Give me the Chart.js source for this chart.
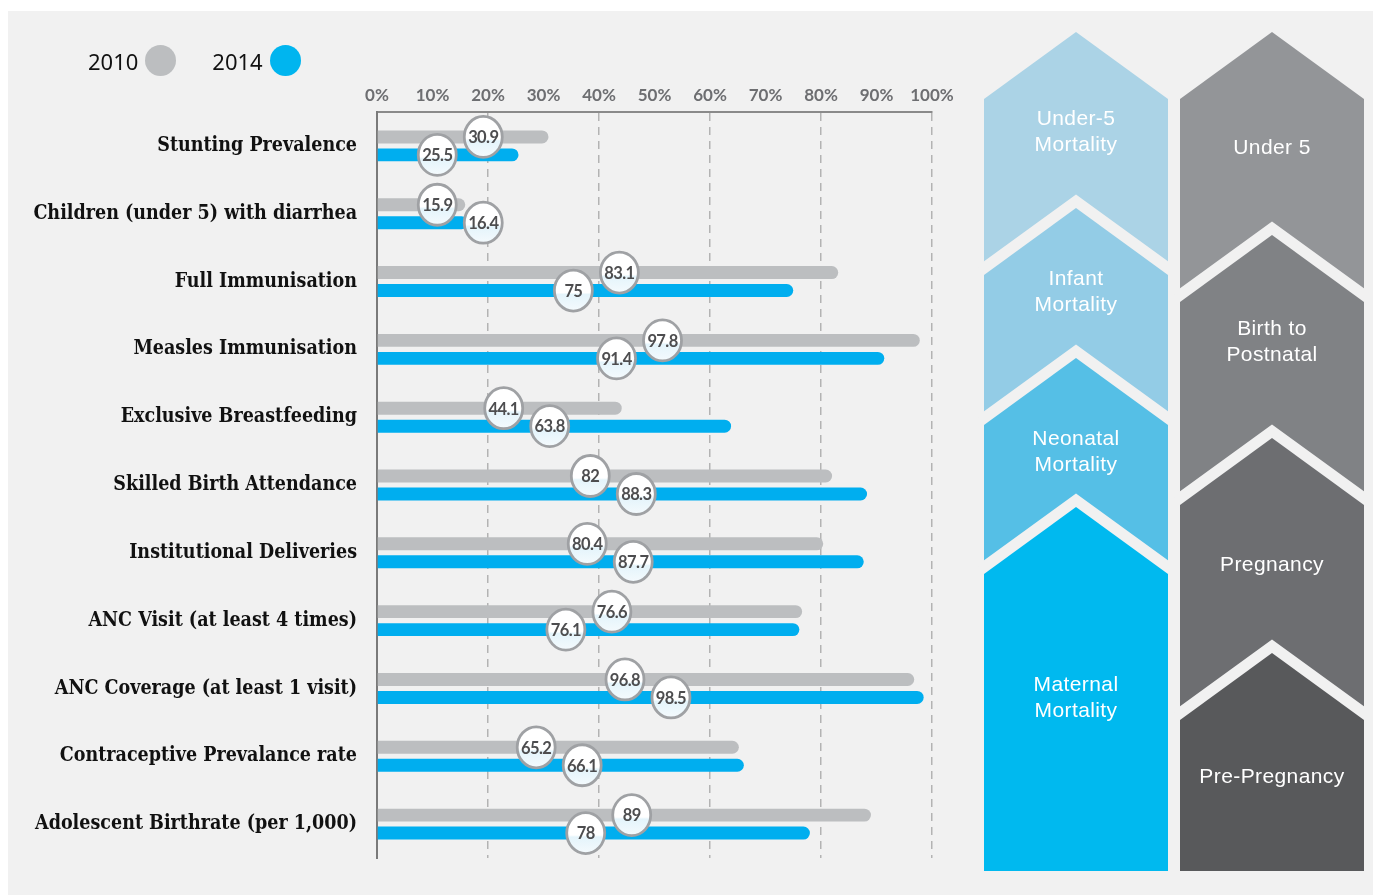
<!DOCTYPE html>
<html>
<head>
<meta charset="utf-8">
<script src="https://cdn.jsdelivr.net/npm/chart.js@4/dist/chart.umd.min.js"></script>
<style>
  body { margin: 0; background: #fff; }
  .panel { position: absolute; left: 8px; top: 11px; width: 1365px; height: 884px; background: #f1f1f1; }
  #chart { position: absolute; left: 0; top: 0; }
  .legend { position: absolute; top: 45px; left: 88px; font-family: "Noto Sans", sans-serif; font-size: 22px; color: #111; display: flex; align-items: center; }
  .legend span { display: inline-block; }
  .dot { width: 31px; height: 31px; border-radius: 50%; margin-left: 7px; margin-right: 36px; }
</style>
</head>
<body>
<div class="panel"></div>
<canvas id="chart" width="1373" height="895"></canvas>
<div class="legend">
  <span>2010</span><span class="dot" style="background:#bcbec0"></span>
  <span>2014</span><span class="dot" style="background:#00b5ef"></span>
</div>
<script>
const categories = [
  "Stunting Prevalence",
  "Children (under 5) with diarrhea",
  "Full Immunisation",
  "Measles Immunisation",
  "Exclusive Breastfeeding",
  "Skilled Birth Attendance",
  "Institutional Deliveries",
  "ANC Visit (at least 4 times)",
  "ANC Coverage (at least 1 visit)",
  "Contraceptive Prevalance rate",
  "Adolescent Birthrate (per 1,000)",
];
const values2010 = [30.9, 15.9, 83.1, 97.8, 44.1, 82, 80.4, 76.6, 96.8, 65.2, 89];
const values2014 = [25.5, 16.4, 75, 91.4, 63.8, 88.3, 87.7, 76.1, 98.5, 66.1, 78];
const tickValues = [0, 10, 20, 30, 40, 50, 60, 70, 80, 90, 100];

const leftStages = [
  { text: ["Under-5", "Mortality"], color: "#abd3e6" },
  { text: ["Infant", "Mortality"], color: "#93cce6" },
  { text: ["Neonatal", "Mortality"], color: "#55bfe6" },
  { text: ["Maternal", "Mortality"], color: "#00b9ef" },
];
const rightStages = [
  { text: ["Under 5"], color: "#939598" },
  { text: ["Birth to", "Postnatal"], color: "#808285" },
  { text: ["Pregnancy"], color: "#6d6e71" },
  { text: ["Pre-Pregnancy"], color: "#58595b" },
];

const GRAY = "#bcbec0";
const BLUE = "#00aeef";
const BG = "#f1f1f1";

/* =========================
   VALUE BUBBLES
========================= */
function bubble(ctx, x, y, text) {
  ctx.save();
  ctx.beginPath();
  ctx.ellipse(x, y, 19, 20.5, 0, 0, Math.PI * 2);
  const g = ctx.createLinearGradient(0, y - 20, 0, y + 20);
  g.addColorStop(0, "#ffffff");
  g.addColorStop(0.55, "#ffffff");
  g.addColorStop(0.6, "#e4f4fb");
  g.addColorStop(1, "#f4fafd");
  ctx.fillStyle = g;
  ctx.fill();
  ctx.lineWidth = 2.8;
  ctx.strokeStyle = "#9fa1a4";
  ctx.stroke();
  ctx.fillStyle = "#4d4d4f";
  ctx.font = "bold 16.5px Lato, sans-serif";
  ctx.letterSpacing = "-0.6px";
  ctx.textAlign = "center";
  ctx.textBaseline = "middle";
  ctx.fillText(text, x, y + 1);
  ctx.restore();
}

const bubblePlugin = {
  id: "bubbles",
  afterDatasetsDraw(chart) {
    const ctx = chart.ctx;
    const xs = chart.scales.x;
    const m0 = chart.getDatasetMeta(0);
    const m1 = chart.getDatasetMeta(1);
    const pos = categories.map((c, i) => {
      const a = values2010[i];
      const b = values2014[i];
      const mid = xs.getPixelForValue(Math.max((a + b) / 4, 15));
      const grayLeft = a <= b;
      return {
        g: mid + (grayLeft ? -23 : 23),
        b: mid + (grayLeft ? 23 : -23),
      };
    });
    categories.forEach((c, i) => bubble(ctx, pos[i].g, m0.data[i].y, String(values2010[i])));
    categories.forEach((c, i) => bubble(ctx, pos[i].b, m1.data[i].y, String(values2014[i])));
  },
};

/* =========================
   CHEVRON COLUMNS
========================= */
function drawColumn(ctx, stages, xl, xr, tops, textY, bottom) {
  const cx = (xl + xr) / 2;
  const drop = 67;
  stages.forEach((s, i) => {
    const apex = tops[i];
    ctx.save();
    ctx.beginPath();
    ctx.moveTo(xl, apex + drop);
    ctx.lineTo(cx, apex);
    ctx.lineTo(xr, apex + drop);
    ctx.lineJoin = "miter";
    ctx.lineWidth = 22;
    ctx.strokeStyle = BG;
    if (i > 0) ctx.stroke();
    ctx.beginPath();
    ctx.moveTo(xl, apex + drop);
    ctx.lineTo(cx, apex);
    ctx.lineTo(xr, apex + drop);
    ctx.lineTo(xr, bottom);
    ctx.lineTo(xl, bottom);
    ctx.closePath();
    ctx.fillStyle = s.color;
    ctx.fill();
    ctx.restore();
  });
  stages.forEach((s, i) => {
    ctx.save();
    ctx.fillStyle = "#ffffff";
    ctx.font = "21px 'Liberation Sans', Arial, sans-serif";
    ctx.letterSpacing = "0.4px";
    ctx.textAlign = "center";
    ctx.textBaseline = "middle";
    s.text.forEach((t, k) => ctx.fillText(t, cx, textY[i] + k * 26));
    ctx.restore();
  });
}

const chevronPlugin = {
  id: "chevrons",
  afterDraw(chart) {
    const ctx = chart.ctx;
    drawColumn(ctx, leftStages, 984, 1168, [32, 208, 358, 507], [119, 279, 439, 685], 871);
    drawColumn(ctx, rightStages, 1180, 1364, [32, 235, 438, 653], [148, 329, 565, 777], 871);
  },
};

/* =========================
   CHART
========================= */
const ctx = document.getElementById("chart").getContext("2d");

new Chart(ctx, {
  type: "bar",
  data: {
    labels: categories,
    datasets: [
      { label: "2010", data: values2010, backgroundColor: GRAY },
      { label: "2014", data: values2014, backgroundColor: BLUE },
    ],
  },
  options: {
    responsive: false,
    animation: false,
    indexAxis: "y",
    layout: { padding: { left: 0, right: 441, top: 0, bottom: 37 } },
    datasets: {
      bar: {
        categoryPercentage: 0.53,
        barPercentage: 0.72,
        borderRadius: 7,
        borderSkipped: "start",
      },
    },
    plugins: {
      legend: { display: false },
      tooltip: { enabled: false },
    },
    scales: {
      x: {
        position: "top",
        min: 0,
        max: 100,
        afterBuildTicks(scale) {
          scale.ticks = tickValues.map((v) => ({ value: v }));
        },
        afterFit(scale) {
          scale.height = 112;
        },
        ticks: {
          padding: 6,
          color: "#6d6e71",
          font: { family: "Lato", weight: "bold", size: 17 },
          callback: (v) => v + "%",
        },
        grid: {
          drawTicks: false,
          lineWidth: 1.5,
          color: (c) => (c.tick && c.tick.value > 0 && c.tick.value % 20 === 0 ? "#b3b3b3" : "rgba(0,0,0,0)"),
        },
        border: { display: true, color: "#8a8a8a", width: 2, dash: [8, 6] },
      },
      y: {
        afterFit(scale) {
          scale.width = 377;
        },
        ticks: {
          padding: 20,
          color: "#111111",
          font: { family: "'DejaVu Serif Condensed', 'Liberation Serif', serif", weight: "bold", size: 19.5 },
        },
        grid: { display: false, drawTicks: false },
        border: { display: true, color: "#7a7a7a", width: 2 },
      },
    },
  },
  plugins: [bubblePlugin, chevronPlugin],
});
</script>
</body>
</html>
